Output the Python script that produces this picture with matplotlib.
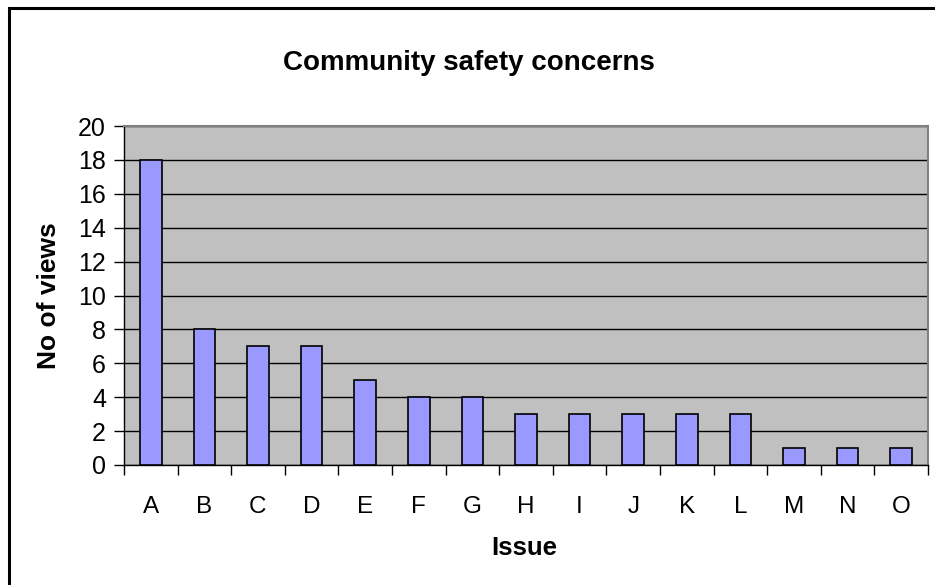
import matplotlib
matplotlib.use("Agg")
import matplotlib.pyplot as plt
from matplotlib.patches import Rectangle

categories = list("ABCDEFGHIJKLMNO")
views = [18, 8, 7, 7, 5, 4, 4, 3, 3, 3, 3, 3, 1, 1, 1]
yticks = list(range(0, 21, 2))

plt.rcParams['font.family'] = ['Liberation Sans', 'DejaVu Sans']

W, H = 935, 585
fig = plt.figure(figsize=(W / 100, H / 100), dpi=100)
fig.patch.set_facecolor('white')

# outer chart border (extends beyond the right and bottom edges)
fig.patches.append(Rectangle((8.5 / W, -0.1), 1.2, 1 - 8.5 / H + 0.1,
                             transform=fig.transFigure, fill=False,
                             edgecolor='black', linewidth=2.2))

left, right, top, bottom = 124, 928, 126, 465
ax = fig.add_axes([left / W, 1 - bottom / H, (right - left) / W, (bottom - top) / H])
ax.set_facecolor('#C0C0C0')

x = list(range(len(categories)))
ax.bar(x, views, width=1 / 2.5, color='#9999FF', edgecolor='black', linewidth=1.2, zorder=3)

ax.set_xlim(-0.5, len(categories) - 0.5)
ax.set_ylim(0, 20)
ax.set_yticks(yticks)
ax.set_yticklabels([str(v) for v in yticks], fontsize=18)
ax.set_xticks(x)
ax.set_xticklabels(categories, fontsize=17.5)
ax.tick_params(axis='x', length=0, pad=22)
ax.set_xticks([i + 0.5 for i in range(-1, len(categories))], minor=True)
ax.tick_params(axis='x', which='minor', length=7, width=1, direction='out')
ax.tick_params(axis='y', length=7, width=1, direction='out', pad=6)

ax.yaxis.grid(True, color='black', linewidth=1)
ax.set_axisbelow(True)

for s in ['top', 'right']:
    ax.spines[s].set_color('#808080')
    ax.spines[s].set_linewidth(1.5)
for s in ['left', 'bottom']:
    ax.spines[s].set_color('black')
    ax.spines[s].set_linewidth(1)

fig.text(469 / W, 1 - 63 / H, 'Community safety concerns', ha='center', va='center',
         fontsize=20, fontweight='bold')
fig.text(49 / W, 1 - 296 / H, 'No of views', ha='center', va='center', rotation=90,
         fontsize=19, fontweight='bold')
fig.text(524 / W, 1 - 548 / H, 'Issue', ha='center', va='center',
         fontsize=18.5, fontweight='bold')

fig.savefig('out.png', dpi=100)
